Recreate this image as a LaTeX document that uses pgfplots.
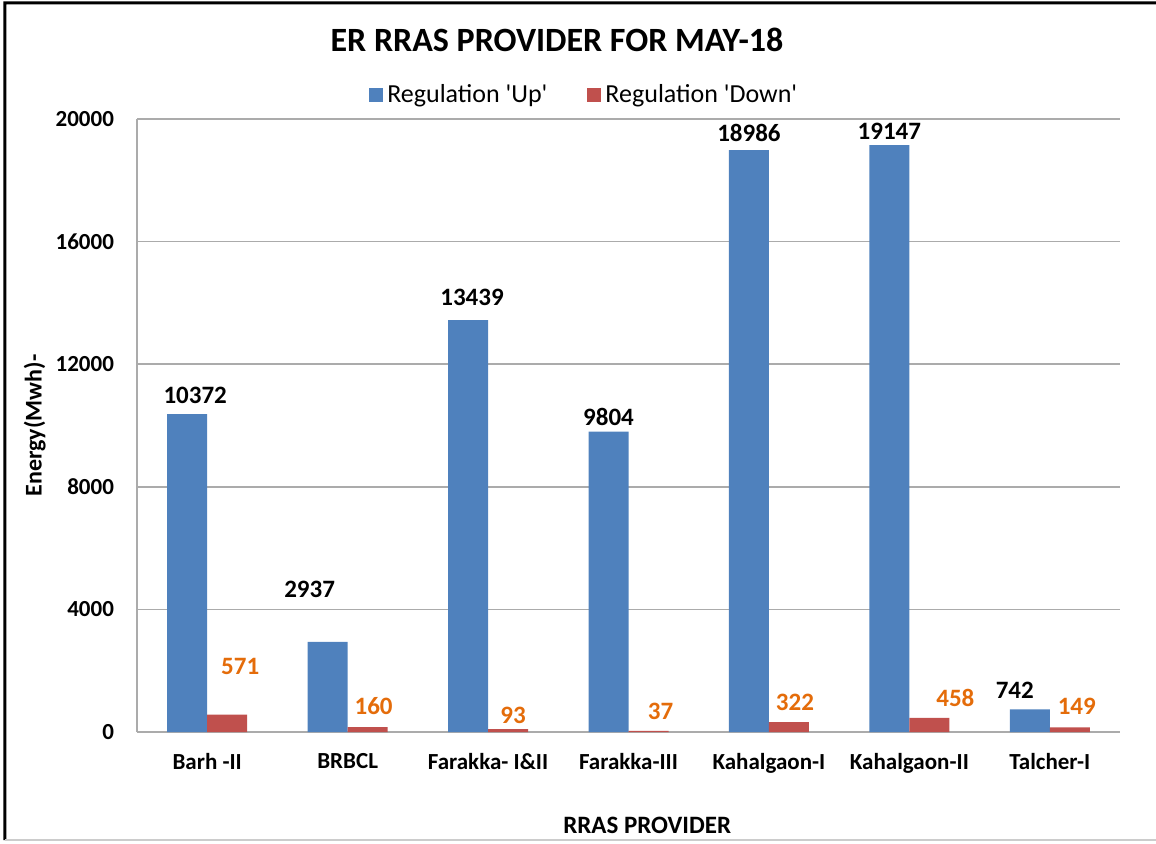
\documentclass[border=0pt]{standalone}
\usepackage{pgfplots}
\pgfplotsset{compat=1.18}
\usepackage{pgfplotstable}
\usepackage{fontspec}
\setmainfont{Carlito}
\newfontfamily\legfont{Carlito}[Ligatures=TeXOff]
\usetikzlibrary{calc}

\definecolor{upblue}{HTML}{4F81BD}
\definecolor{downred}{HTML}{C0504D}
\definecolor{lblorange}{HTML}{E46C0A}
\definecolor{gridgray}{HTML}{ABABAB}

% x = provider index, dx/dy = label offset from bar top (pt)
\pgfplotstableread{
x y dx dy
0 10372 4 9.5
1 2937 -9 26.5
2 13439 2 11.5
3 9804 0 7.5
4 18986 0 8.5
5 19147 0 7
6 742 -7.5 9.5
}\uptable
\pgfplotstableread{
x y dx dy
0 571 6.5 24
1 160 3 10.5
2 93 2.5 7
3 37 6 9.5
4 322 3 10
5 458 13 10
6 149 3.5 10.5
}\downtable

\begin{document}
\begin{tikzpicture}
\begin{axis}[
    name=ax,
    scale only axis,
    width=491.5pt, height=306.5pt,
    ybar=0pt, bar width=20pt,
    xmin=-0.5, xmax=6.5,
    ymin=0, ymax=20000,
    ytick={0,4000,...,20000},
    xtick=data,
    xticklabels={Barh -II, BRBCL, Farakka- I\&II, Farakka-III, Kahalgaon-I, Kahalgaon-II, Talcher-I},
    scaled y ticks=false,
    /pgf/number format/assume math mode=true,
    /pgf/number format/1000 sep={},
    y tick label style={font=\fontsize{11.5}{13}\selectfont\bfseries, xshift=-8pt},
    x tick label style={font=\fontsize{11.5}{13}\selectfont\bfseries, yshift=-7pt},
    major tick length=0pt,
    axis x line*=bottom, axis y line*=left,
    axis line style={gridgray, line width=1pt},
    ymajorgrids, grid style={gridgray, line width=0.8pt},
    ylabel={Energy(Mwh)-},
    ylabel style={at={(axis description cs:-0.104,0.5)}, anchor=center, font=\fontsize{12}{14}\selectfont\bfseries},
    xlabel={RRAS PROVIDER},
    xlabel style={at={(axis description cs:0.519,-0.152)}, anchor=center, font=\fontsize{12.5}{14}\selectfont\bfseries},
    legend style={at={(0.456,1.039)}, anchor=center, draw=none, legend columns=-1,
        font=\legfont\fontsize{13}{15}\selectfont, /tikz/every even column/.append style={column sep=18pt}},
    legend image code/.code={\fill[#1] (0pt,-3.5pt) rectangle (7pt,3.5pt);},
    nodes near coords,
    visualization depends on={\thisrow{dx} \as \labdx},
    visualization depends on={\thisrow{dy} \as \labdy},
    every node near coord/.append style={anchor=center, xshift=\labdx pt, yshift=\labdy pt,
        font=\fontsize{12.5}{14}\selectfont\bfseries},
]
\addplot[fill=upblue, draw=none, nodes near coords style={text=black}] table[x=x, y=y] {\uptable};
\addplot[fill=downred, draw=none, nodes near coords style={text=lblorange}] table[x=x, y=y] {\downtable};
\legend{Regulation 'Up', Regulation 'Down'}
\end{axis}
\coordinate (bl) at (ax.south west);
\node[font=\fontsize{17}{20}\selectfont\bfseries] at ($(bl)+(210pt,346pt)$) {ER RRAS PROVIDER FOR MAY-18};
\pgfresetboundingbox
\useasboundingbox ($(bl)+(-68.5pt,-55.5pt)$) rectangle ($(ax.north east)+(18pt,59.5pt)$);
\draw[black, line width=1.5pt] ($(bl)+(-66pt,-54pt)$) -- ($(bl)+(-66pt,364.5pt)$) -- ($(ax.north east)+(18pt,58pt)$);
\draw[gray!40, line width=1pt] ($(bl)+(-66pt,-54pt)$) -- ($(ax.south east)+(18pt,-54pt)$);
\end{tikzpicture}
\end{document}
